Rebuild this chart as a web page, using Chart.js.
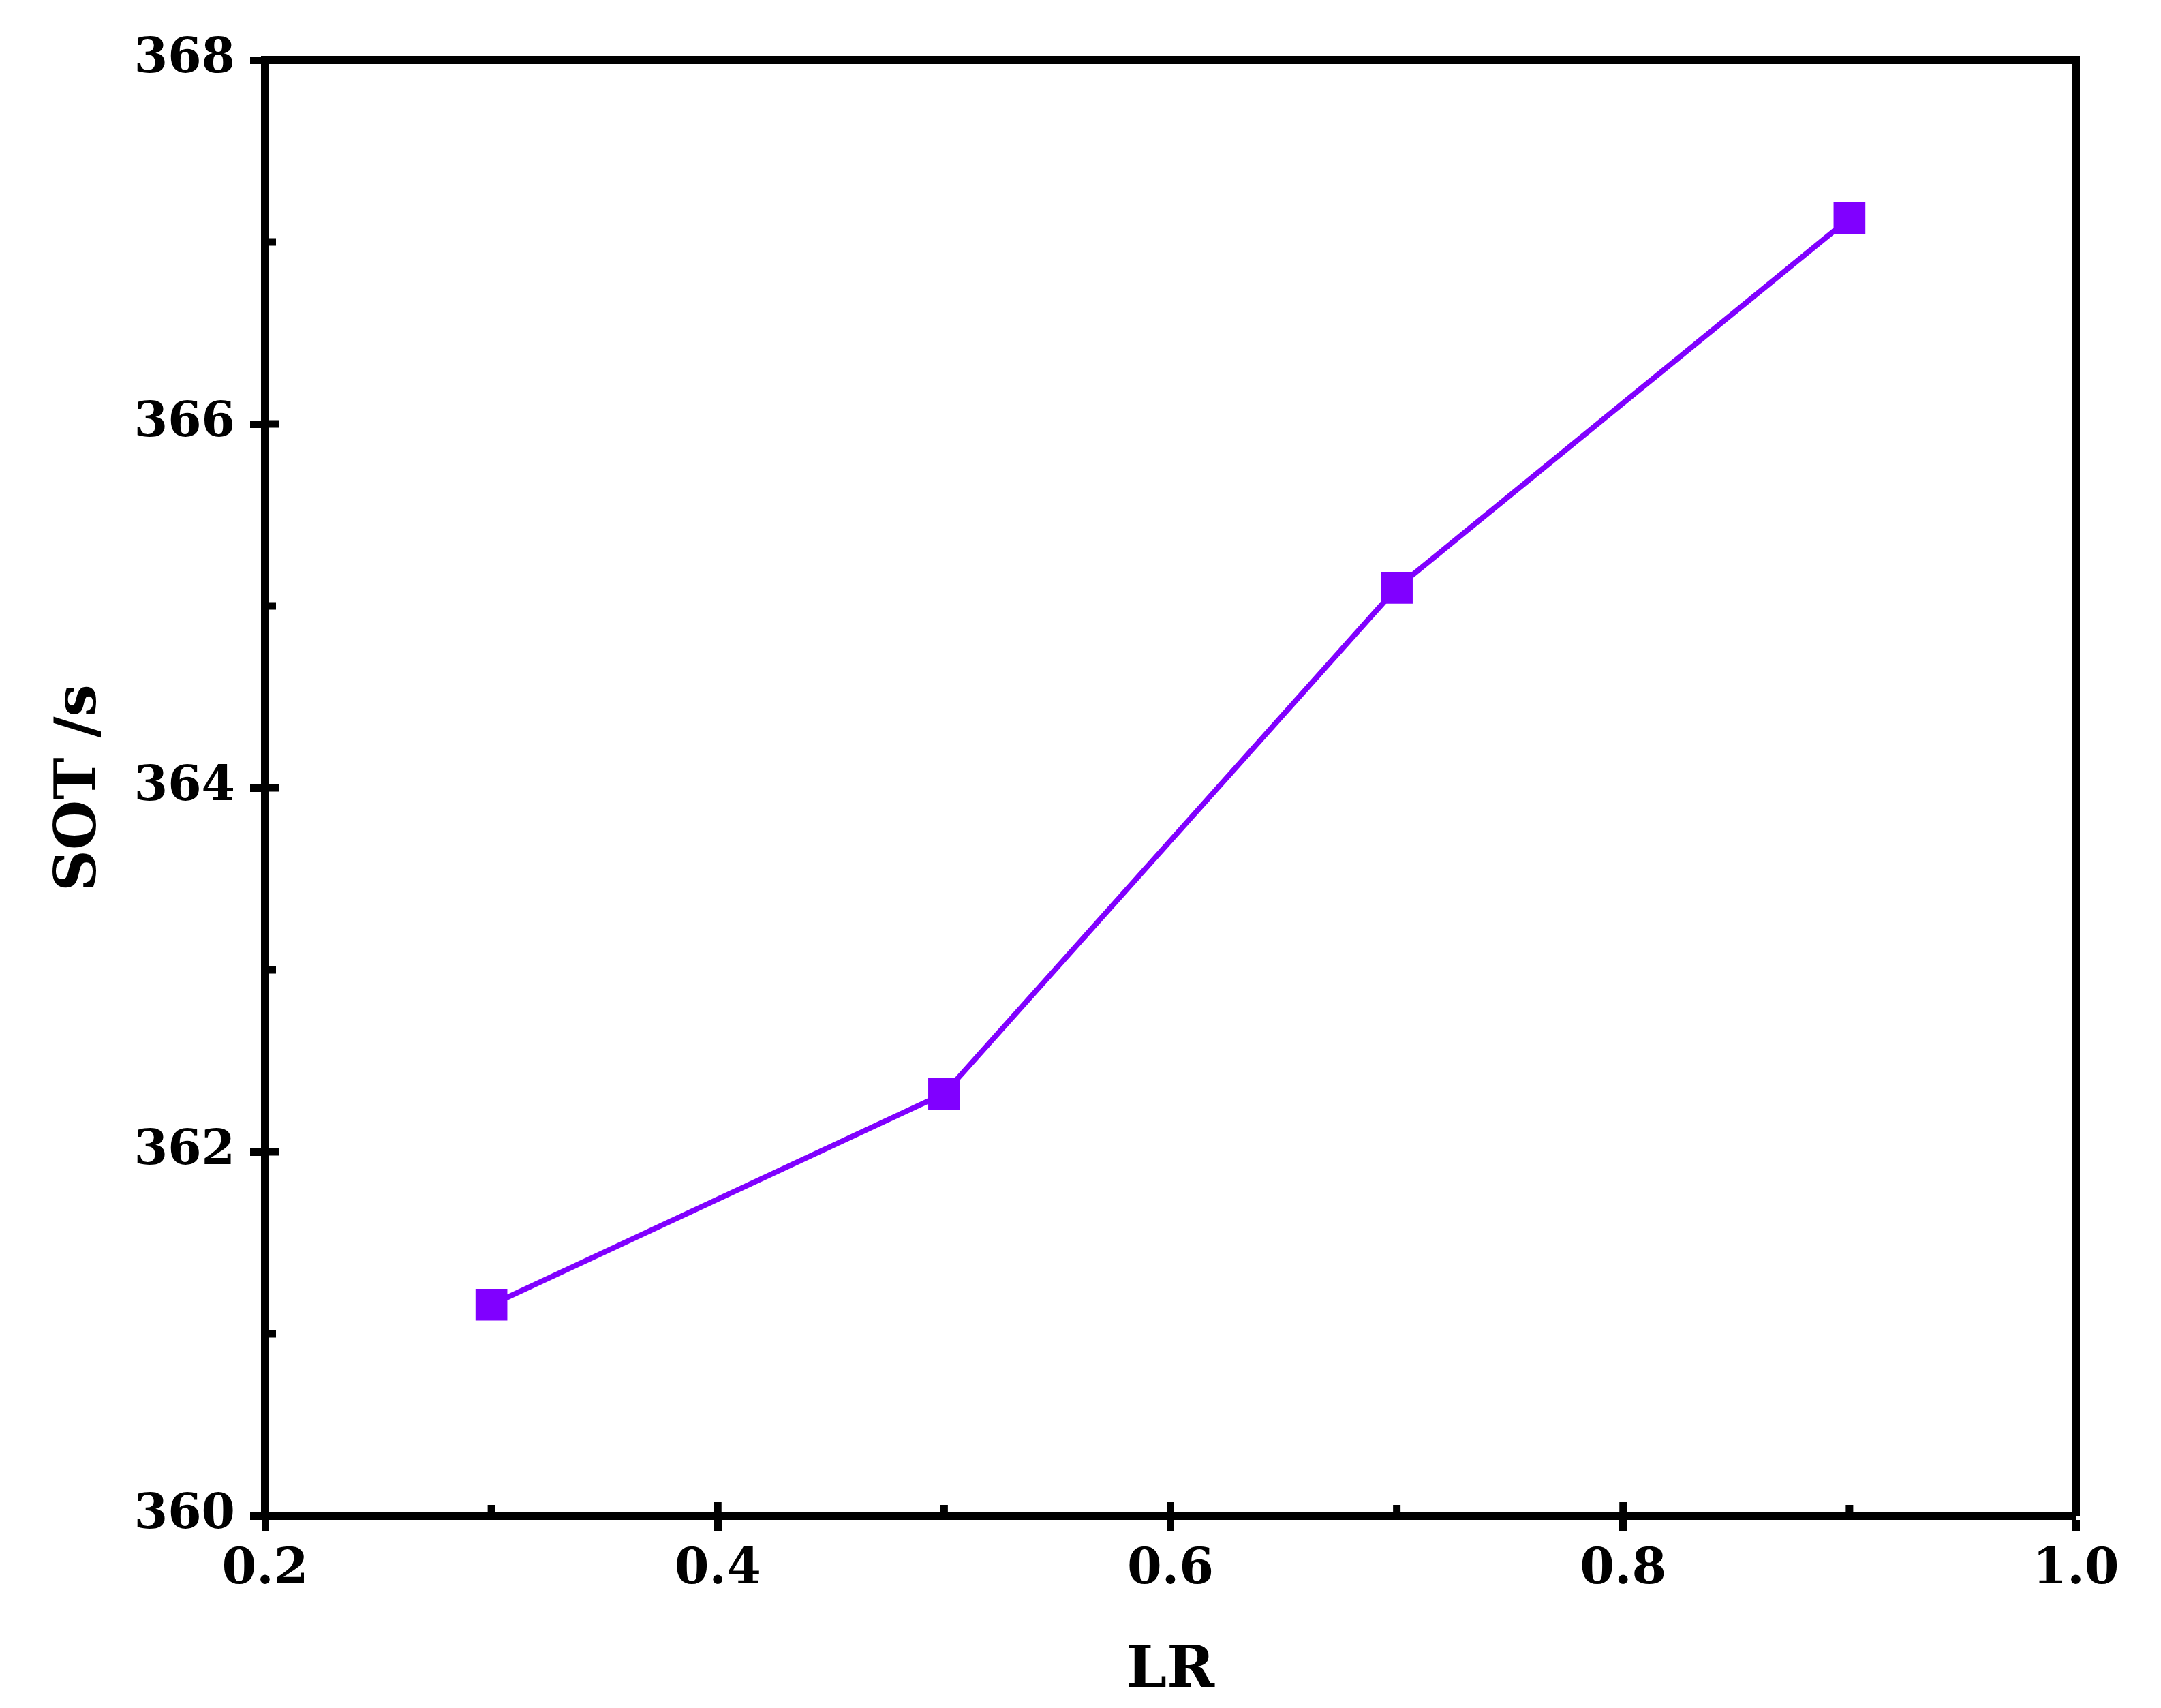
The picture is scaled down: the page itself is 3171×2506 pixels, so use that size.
<!DOCTYPE html>
<html>
<head>
<meta charset="utf-8">
<script src="https://cdn.jsdelivr.net/npm/chart.js@4.4.1/dist/chart.umd.min.js"></script>
<style>
html,body{margin:0;padding:0;background:#fff;}
canvas{display:block;}
</style>
</head>
<body>
<canvas id="c" width="3171" height="2506"></canvas>
<script>
const lrValues = [0.3, 0.5, 0.7, 0.9];
const sotValues = [361.16, 362.32, 365.10, 367.13];
const xMajorTicks = [0.2, 0.4, 0.6, 0.8, 1.0];
const xMinorTicks = [0.3, 0.5, 0.7, 0.9];
const yMajorTicks = [360, 362, 364, 366, 368];
const yMinorTicks = [361, 363, 365, 367];
const xTitle = 'LR';
const yTitle = 'SOT /s';

const FONT = "'DejaVu Serif', serif";
const AXIS_W = 12;

const framePlugin = {
  id: 'frame',
  afterDraw(chart) {
    const {ctx, chartArea: a, scales} = chart;
    ctx.save();
    ctx.strokeStyle = '#000';
    ctx.lineWidth = AXIS_W;
    ctx.lineCap = 'butt';
    ctx.beginPath();
    ctx.moveTo(a.left - AXIS_W/2, a.top);
    ctx.lineTo(a.right + AXIS_W/2, a.top);
    ctx.moveTo(a.right, a.top);
    ctx.lineTo(a.right, a.bottom);
    ctx.stroke();
    ctx.lineWidth = 11;
    ctx.beginPath();
    xMajorTicks.forEach(v => { const p = scales.x.getPixelForValue(v); ctx.moveTo(p, a.bottom); ctx.lineTo(p, a.bottom - 20); });
    yMajorTicks.forEach(v => { const p = scales.y.getPixelForValue(v); ctx.moveTo(a.left, p); ctx.lineTo(a.left + 20, p); });
    ctx.stroke();
    ctx.beginPath();
    xMinorTicks.forEach(v => { const p = scales.x.getPixelForValue(v); ctx.moveTo(p, a.bottom); ctx.lineTo(p, a.bottom - 16); });
    yMinorTicks.forEach(v => { const p = scales.y.getPixelForValue(v); ctx.moveTo(a.left, p); ctx.lineTo(a.left + 16, p); });
    ctx.stroke();
    ctx.restore();
  }
};

new Chart(document.getElementById('c'), {
  type: 'line',
  data: {
    datasets: [{
      data: lrValues.map((x, i) => ({x: x, y: sotValues[i]})),
      borderColor: '#8000FF',
      backgroundColor: '#8000FF',
      borderWidth: 8,
      pointStyle: 'rect',
      pointRadius: 33,
      pointBorderWidth: 0,
      pointBackgroundColor: '#8000FF',
      tension: 0,
      fill: false
    }]
  },
  options: {
    responsive: false,
    animation: false,
    devicePixelRatio: 1,
    plugins: { legend: {display: false}, tooltip: {enabled: false} },
    layout: { padding: { left: 0, top: 88, right: 125, bottom: 0 } },
    scales: {
      x: {
        type: 'linear',
        min: 0.2, max: 1.0,
        afterBuildTicks(s) { s.ticks = xMajorTicks.map(v => ({value: v})); },
        afterFit(s) { s.height = 2506 - 2224; },
        border: { display: true, color: '#000', width: AXIS_W },
        grid: { display: true, drawOnChartArea: false, drawTicks: true, tickLength: 22, tickWidth: 11, tickColor: '#000' },
        ticks: {
          color: '#000', padding: 14, maxRotation: 0, autoSkip: false,
          font: { family: FONT, weight: 'bold', size: 73 },
          callback: v => Number(v).toFixed(1)
        },
        title: {
          display: true, text: xTitle, color: '#000',
          font: { family: FONT, weight: 'bold', size: 84 },
          padding: { top: 0, bottom: 2 }
        }
      },
      y: {
        type: 'linear',
        min: 360, max: 368,
        afterBuildTicks(s) { s.ticks = yMajorTicks.map(v => ({value: v})); },
        afterFit(s) { s.width = 389; },
        border: { display: true, color: '#000', width: AXIS_W },
        grid: { display: true, drawOnChartArea: false, drawTicks: true, tickLength: 22, tickWidth: 11, tickColor: '#000' },
        ticks: {
          color: '#000', padding: 22, autoSkip: false,
          font: { family: FONT, weight: 'bold', size: 71 },
          callback: v => String(v)
        },
        title: {
          display: true, text: yTitle, color: '#000',
          font: { family: FONT, weight: 'bold', size: 84 },
          padding: { top: 68, bottom: 0 }
        }
      }
    }
  },
  plugins: [framePlugin]
});
</script>
</body>
</html>
